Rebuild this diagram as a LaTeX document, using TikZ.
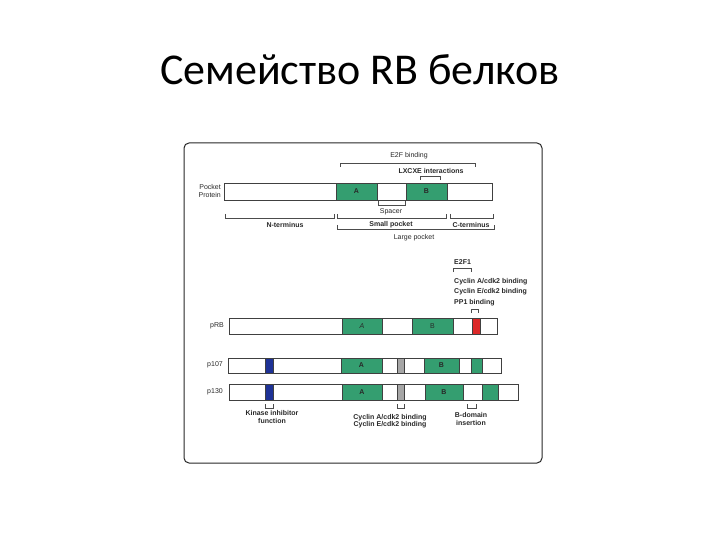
\documentclass[tikz,border=0pt]{standalone}
\usepackage{fontspec}
\setmainfont{Liberation Sans}
\newfontfamily\titlefont{Carlito}
\definecolor{dgreen}{RGB}{52,158,112}
\definecolor{dblue}{RGB}{30,50,150}
\definecolor{dred}{RGB}{220,40,40}
\definecolor{tgray}{RGB}{40,40,40}
\begin{document}
\begin{tikzpicture}[x=1pt,y=-1pt,
  bar/.style={draw=black!75,line width=0.8pt,fill=white},
  seg/.style={draw=black!75,line width=0.6pt},
  lab/.style={font=\fontsize{7}{7.5}\selectfont,text=tgray,inner sep=0pt,align=center},
  blab/.style={font=\bfseries\fontsize{7}{7.5}\selectfont,text=tgray,inner sep=0pt,align=left,anchor=west},
  br/.style={draw=black!70,line width=0.5pt}]
\useasboundingbox (0,0) rectangle (720,540);
\node[font=\titlefont\fontsize{44}{48}\selectfont] (title) at (360,70) {Семейство RB белков};
\draw[line width=1pt,rounded corners=5pt,draw=black!85] (184,143) rectangle (542,463);
% pocket protein
\node[lab,align=right,anchor=east] (pp) at (221,191) {Pocket\\Protein};
\draw[bar] (224,183) rectangle (492,200);
\draw[seg,fill=dgreen] (336,183) rectangle node[lab,font=\bfseries\fontsize{7}{8}\selectfont] (A0) {A} (377,200);
\draw[seg,fill=dgreen] (406,183) rectangle node[lab,font=\bfseries\fontsize{7}{8}\selectfont] (B0) {B} (447,200);
\draw[br] (340,167) -- (340,163) -- (475,163) -- (475,167);
\node[lab] (e2f) at (409,156) {E2F binding};
\node[lab,font=\bfseries\fontsize{7}{7.5}\selectfont] (lx) at (431,171) {LXCXE interactions};
\draw[br] (420,180) -- (420,176) -- (440,176) -- (440,180);
\draw[br] (378,201) -- (378,205) -- (405,205) -- (405,201);
\node[lab] (sp) at (391,212) {Spacer};
\draw[br] (225,214) -- (225,218) -- (334,218) -- (334,214);
\node[lab,font=\bfseries\fontsize{7}{7.5}\selectfont] (nt) at (285,225) {N-terminus};
\draw[br] (337,214) -- (337,218) -- (446,218) -- (446,214);
\node[lab,font=\bfseries\fontsize{7}{7.5}\selectfont] (smp) at (391,225) {Small pocket};
\draw[br] (450,214) -- (450,218) -- (493,218) -- (493,214);
\node[lab,font=\bfseries\fontsize{7}{7.5}\selectfont] (ct) at (471,225) {C-terminus};
\draw[br] (337,225) -- (337,229) -- (494,229) -- (494,225);
\node[lab] (lp) at (414,238) {Large pocket};
% E2F1 block
\node[blab] (e2f1) at (454,262) {E2F1};
\draw[br] (453,272) -- (453,268) -- (471,268) -- (471,272);
\node[blab] (c1) at (454,282) {Cyclin A/cdk2 binding};
\node[blab] (c2) at (454,292) {Cyclin E/cdk2 binding};
\node[blab] (pp1) at (454,303) {PP1 binding};
\draw[br] (471,313) -- (471,309) -- (478,309) -- (478,313);
% pRB
\node[lab,anchor=east] (prb) at (224,326) {pRB};
\draw[bar] (229,318) rectangle (497,334);
\draw[seg,fill=dgreen] (342,318) rectangle node[lab,font=\itshape\fontsize{7}{8}\selectfont] {A} (382,334);
\draw[seg,fill=dgreen] (412,318) rectangle node[lab,font=\fontsize{7}{8}\selectfont] {B} (453,334);
\draw[seg,fill=dred] (472,318) rectangle (480,334);
% p107
\node[lab,anchor=east] (p107) at (223,365) {p107};
\draw[bar] (228,358) rectangle (501,373);
\draw[seg,fill=dblue] (265,358) rectangle (273,373);
\draw[seg,fill=dgreen] (341,358) rectangle node[lab,font=\bfseries\fontsize{7}{8}\selectfont] {A} (382,373);
\draw[seg,fill=gray!70] (397,358) rectangle (404,373);
\draw[seg,fill=dgreen] (424,358) rectangle node[lab,font=\bfseries\fontsize{7}{8}\selectfont] {B} (459,373);
\draw[seg,fill=dgreen] (471,358) rectangle (482,373);
% p130
\node[lab,anchor=east] (p130) at (223,392) {p130};
\draw[bar] (229,384) rectangle (518,400);
\draw[seg,fill=dblue] (265,384) rectangle (273,400);
\draw[seg,fill=dgreen] (342,384) rectangle node[lab,font=\bfseries\fontsize{7}{8}\selectfont] {A} (382,400);
\draw[seg,fill=gray!70] (397,384) rectangle (404,400);
\draw[seg,fill=dgreen] (425,384) rectangle node[lab,font=\bfseries\fontsize{7}{8}\selectfont] {B} (463,400);
\draw[seg,fill=dgreen] (482,384) rectangle (498,400);
% bottom brackets
\draw[br] (265,404) -- (265,408) -- (273,408) -- (273,404);
\node[lab,font=\bfseries\fontsize{7}{7.5}\selectfont] (kin) at (272,417) {Kinase inhibitor\\function};
\draw[br] (397,404) -- (397,408) -- (404,408) -- (404,404);
\node[lab,font=\bfseries\fontsize{7}{7.5}\selectfont] (cyc) at (390,421) {Cyclin A/cdk2 binding\\Cyclin E/cdk2 binding};
\draw[br] (467,404) -- (467,408) -- (476,408) -- (476,404);
\node[lab,font=\bfseries\fontsize{7}{7.5}\selectfont] (bd) at (471,419) {B-domain\\insertion};
\end{tikzpicture}
\end{document}
